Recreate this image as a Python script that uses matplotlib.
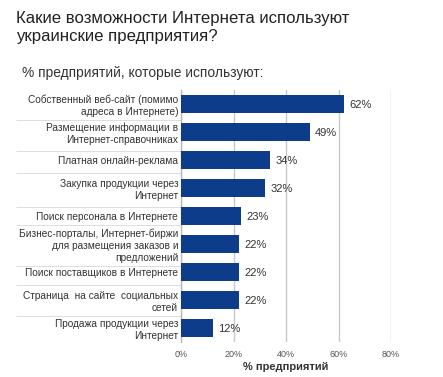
import matplotlib
matplotlib.use("Agg")
import matplotlib.pyplot as plt
from matplotlib.ticker import FixedLocator

plt.rcParams['font.family'] = ['Liberation Sans', 'DejaVu Sans']

categories = [
    "Собственный веб-сайт (помимо\nадреса в Интернете)",
    "Размещение информации в\nИнтернет-справочниках",
    "Платная онлайн-реклама",
    "Закупка продукции через\nИнтернет",
    "Поиск персонала в Интернете",
    "Бизнес-порталы, Интернет-биржи\nдля размещения заказов и\nпредложений",
    "Поиск поставщиков в Интернете",
    "Страница  на сайте  социальных\nсетей",
    "Продажа продукции через\nИнтернет",
]
values = [62, 49, 34, 32, 23, 22, 22, 22, 12]
xticks = [0, 20, 40, 60, 80]
xtick_labels = ["0%", "20%", "40%", "60%", "80%"]

W, H = 443, 377
fig = plt.figure(figsize=(W / 100, H / 100), dpi=100)
fig.patch.set_facecolor("white")

ax = fig.add_axes([181 / W, 1 - 342 / H, (391 - 181) / W, (342 - 90) / H])

ypos = list(range(len(categories)))
ax.barh(ypos, values, height=0.66, color="#0d3d8a", zorder=3)
ax.set_ylim(len(categories) - 0.5, -0.5)
ax.set_xlim(0, 80)

for y, v in zip(ypos, values):
    ax.annotate(f"{v}%", (v, y), xytext=(4, -1), textcoords="offset points",
                va="center", ha="left", fontsize=8, color="#333333")

ax.set_xticks(xticks)
ax.set_xticklabels(xtick_labels, fontsize=6.5, color="#555555")
ax.tick_params(axis="x", length=0, pad=6)
ax.set_yticks(ypos)
ax.set_yticklabels(categories, fontsize=7.3, color="#333333", linespacing=1.25)
ax.tick_params(axis="y", which="major", length=0, pad=2)

ax.grid(axis="x", color="#c8c8c8", linewidth=1.0, zorder=0)
for s in ["top", "right", "bottom"]:
    ax.spines[s].set_visible(False)
ax.spines["left"].set_color("#bbbbbb")
ax.spines["left"].set_linewidth(1.0)

ax.set_xlabel("% предприятий", fontsize=8, fontweight="bold", color="#333333", labelpad=2)

fig.text(16 / W, 1 - 11 / H, "Какие возможности Интернета используют\nукраинские предприятия?",
         ha="left", va="top", fontsize=12.1, color="#222222", linespacing=1.25)
fig.text(22 / W, 1 - 73 / H, "% предприятий, которые используют:",
         ha="left", va="center", fontsize=9.9, color="#333333")

# separators between category labels, placed midway between neighbouring label boxes
fig.canvas.draw()
renderer = fig.canvas.get_renderer()
labels = ax.get_yticklabels()
inv = ax.transData.inverted()
seps = []
for a, b in zip(labels[:-1], labels[1:]):
    ea = a.get_window_extent(renderer)
    eb = b.get_window_extent(renderer)
    ymid_px = (ea.y0 + eb.y1) / 2
    seps.append(inv.transform((0, ymid_px))[1])
ax.yaxis.set_minor_locator(FixedLocator(seps))
ax.tick_params(axis="y", which="minor", length=119, width=0.6, color="#d8d8d8", direction="out")

fig.savefig("out.png", dpi=100, facecolor="white")
